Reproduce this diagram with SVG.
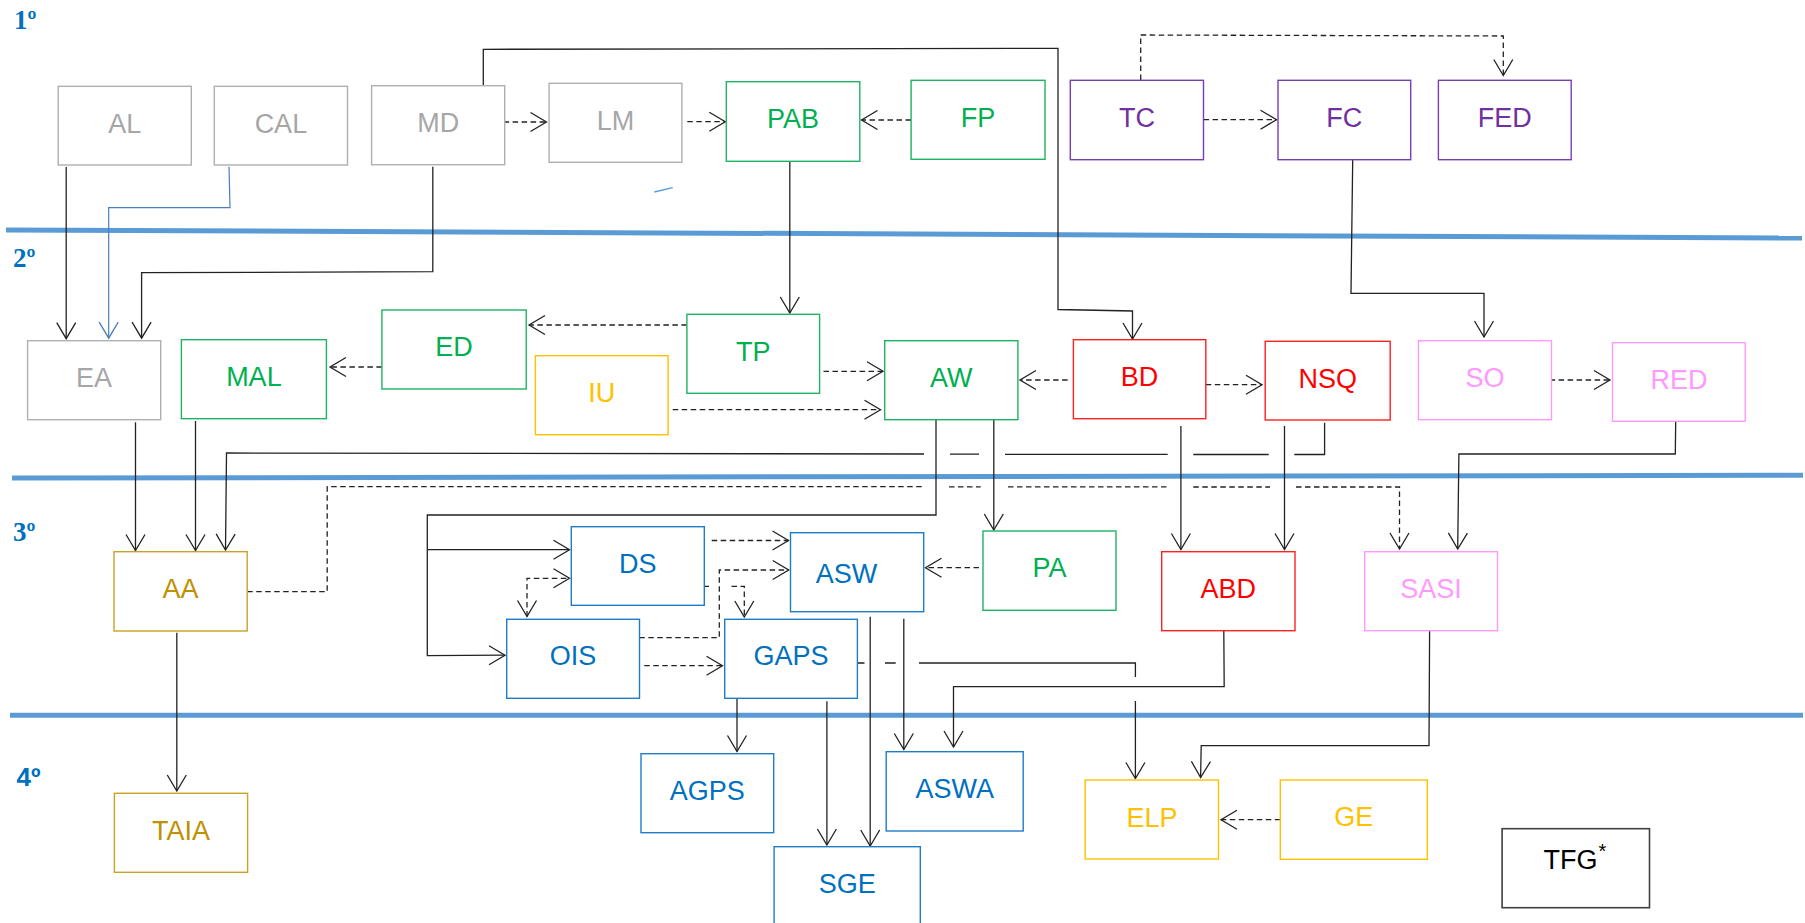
<svg xmlns="http://www.w3.org/2000/svg" width="1805" height="923" viewBox="0 0 1805 923">
<style>
.t{font-family:"Liberation Sans",Arial,sans-serif;font-size:27px;text-anchor:middle}
rect{fill:#fff;stroke-width:1.4}
.g rect{stroke:#B0B0B0}.g text{fill:#A6A6A6}
.gr rect{stroke:#1DB462}.gr text{fill:#00B050}
.pu rect{stroke:#7A3DB0}.pu text{fill:#7030A0}
.ye rect{stroke:#FFC000}.ye text{fill:#FFC000}
.re rect{stroke:#FF2020}.re text{fill:#FF0000}
.pk rect{stroke:#FF99FF}.pk text{fill:#FF99FF}
.bl rect{stroke:#1F7DC8}.bl text{fill:#0070C0}
.au rect{stroke:#C9A227}.au text{fill:#BF9000}
.bk rect{stroke:#404040;stroke-width:1.6}.bk text{fill:#000}
.band{stroke:#5B9BD5;stroke-width:5;fill:none}
.lvl{font-family:"Liberation Serif","Times New Roman",serif;font-weight:bold;font-size:27px;fill:#0070C0}
.c path{fill:none;stroke:#222;stroke-width:1.3}
.c path.d{stroke-dasharray:5.5 3.5}
.c path.s{marker-end:url(#ah)}
</style>
<defs>
<marker id="ah" markerUnits="userSpaceOnUse" markerWidth="22" markerHeight="24" viewBox="-18 -12 22 24" refX="0" refY="0" orient="auto-start-reverse" overflow="visible">
<path d="M-16,-9.5 L0,0 L-16,9.5" fill="none" stroke="#222" stroke-width="1.3" stroke-dasharray="none"/>
</marker>
<marker id="ahb" markerUnits="userSpaceOnUse" markerWidth="22" markerHeight="24" viewBox="-18 -12 22 24" refX="0" refY="0" orient="auto" overflow="visible">
<path d="M-16,-9.5 L0,0 L-16,9.5" fill="none" stroke="#4A7EBB" stroke-width="1.3"/>
</marker>
</defs>
<rect x="0" y="0" width="1805" height="923" style="fill:#fff;stroke:none"/>

<g id="bands">
<path class="band" d="M6,230 L1802,238"/>
<path class="band" d="M12,478 L1803,475.3"/>
<path class="band" d="M10,715.3 L1803,715.3"/>
</g>

<g id="levels">
<text class="lvl" x="14" y="29.3">1º</text>
<text class="lvl" x="13" y="266.7">2º</text>
<text class="lvl" x="13" y="540.7">3º</text>
<text x="16.5" y="786" style="font-family:'Liberation Sans',Arial,sans-serif;font-weight:bold;font-size:26px;fill:#0070C0">4º</text>
</g>

<g id="connectors" class="c">
<path class="s" d="M66.2,167 V338.7"/>
<path d="M229,166.7 L230,207.7 H108.7 V338.2" style="stroke:#4A7EBB;stroke-width:1.2;marker-end:url(#ahb)"/>
<path class="s" d="M432.8,166.7 V271.7 L141.6,272.7 V338.2"/>
<path class="s" d="M483.3,85 V49.3 L1058,48.3 V309.5 L1132.5,311 V339"/>
<path class="d s" d="M503.6,122 H546.5"/>
<path class="d s" d="M687.3,121.7 H725.3"/>
<path class="d s" d="M911,120 H861.5"/>
<path class="d s" d="M1203.5,119.7 H1276.5"/>
<path class="d s" d="M1140.7,80 V35 L1503.3,36 V75.5"/>
<path class="s" d="M789.8,161.3 V313"/>
<path class="s" d="M1352.7,160 L1351,293.3 H1484 V337"/>
<path class="d s" d="M686.9,325 H529"/>
<path class="d s" d="M381.9,367 H330"/>
<path class="d s" d="M823.5,371.3 H883"/>
<path class="d s" d="M672.7,409.7 H880.5"/>
<path class="d s" d="M1067.6,380 H1020"/>
<path class="d s" d="M1205.8,384.7 H1262"/>
<path class="d s" d="M1549.6,380 H1610"/>
<path class="s" d="M135.5,422.3 V550.5"/>
<path class="s" d="M195.5,421 V550.5"/>
<path class="s" d="M1324.6,422.7 V454.5 H1294.3 M1268.7,454.5 H1193.3 M1167.7,454.4 H1005 M979,454.2 H950 M924,454 L226.5,453 L225.5,550"/>
<path class="d s" d="M247.2,591.7 H327.2 V486.7 H924 M949,486.8 H980.7 M1008,486.8 H1167.7 M1193.3,487 H1270 M1296,487 H1399.5 V549"/>
<path d="M936,419.7 V515 H427.3 V655.7 L505,655.2" class="s"/>
<path class="s" d="M427.3,549.7 H569.5"/>
<path class="d" d="M527,616.5 V578.3 H569.5" style="marker-start:url(#ah);marker-end:url(#ah)"/>
<path class="d s" d="M711.7,540.5 H788.5"/>
<path class="d s" d="M639.3,637.7 H719.3 V570 H788.7"/>
<path class="d s" d="M704.3,586.3 H709 M731.5,586.3 H744.3 V617"/>
<path class="d s" d="M644.3,665.7 H722.5"/>
<path class="d s" d="M979,567.7 H925.5"/>
<path class="s" d="M993.8,419.7 V530"/>
<path class="s" d="M1180.9,426 V549.5"/>
<path class="s" d="M1284.5,426 V549.5"/>
<path class="s" d="M1675.7,421.3 L1675.3,454 H1458.9 L1457.7,549"/>
<path class="s" d="M176.8,632.7 V791"/>
<path class="s" d="M737,698 V751.5"/>
<path class="s" d="M826.9,701.3 V845"/>
<path class="s" d="M870.2,616.7 V846"/>
<path class="s" d="M903.8,618.7 V749.5"/>
<path class="s" d="M1223.8,630.7 L1224.2,686.7 H953.5 V747"/>
<path class="s" d="M857.5,663 H864.5 M885,663 H895.7 M919,663 H1135.4 V677 M1135.4,701 V778.5"/>
<path class="s" d="M1429.6,631 L1429,745.7 H1201.2 L1200.6,777.5"/>
<path class="d s" d="M1280.3,819.7 H1221"/>
<path d="M654.3,192 L672.7,187.7" style="stroke:#5B9BD5;stroke-width:1.3"/>
</g>

<g id="AL" class="g"><rect x="58.2" y="86.3" width="133.1" height="78.7"/><text class="t" x="124.7" y="132.7">AL</text></g>
<g id="CAL" class="g"><rect x="214.3" y="86.3" width="133.2" height="78.7"/><text class="t" x="280.9" y="132.7">CAL</text></g>
<g id="MD" class="g"><rect x="371.6" y="85.7" width="133.1" height="79"/><text class="t" x="438.2" y="132.2">MD</text></g>
<g id="LM" class="g"><rect x="549.1" y="83.3" width="132.8" height="79"/><text class="t" x="615.5" y="129.8">LM</text></g>
<g id="PAB" class="gr"><rect x="726.3" y="81.7" width="133.5" height="79.6"/><text class="t" x="793" y="128">PAB</text></g>
<g id="FP" class="gr"><rect x="911.1" y="80.3" width="133.9" height="79"/><text class="t" x="978" y="126.8">FP</text></g>
<g id="TC" class="pu"><rect x="1070.3" y="80.3" width="133.2" height="79.4"/><text class="t" x="1136.9" y="127">TC</text></g>
<g id="FC" class="pu"><rect x="1278" y="80.3" width="132.7" height="79.4"/><text class="t" x="1344.3" y="127">FC</text></g>
<g id="FED" class="pu"><rect x="1438.4" y="80.3" width="132.8" height="79.4"/><text class="t" x="1504.8" y="127">FED</text></g>

<g id="EA" class="g"><rect x="27.6" y="340.7" width="133.1" height="79"/><text class="t" x="94.1" y="387">EA</text></g>
<g id="MAL" class="gr"><rect x="181.4" y="339.7" width="145" height="79"/><text class="t" x="253.9" y="386">MAL</text></g>
<g id="ED" class="gr"><rect x="381.9" y="310" width="144.3" height="79"/><text class="t" x="454" y="356">ED</text></g>
<g id="IU" class="ye"><rect x="535.4" y="355.7" width="132.7" height="79"/><text class="t" x="601.7" y="401.7">IU</text></g>
<g id="TP" class="gr"><rect x="686.9" y="314.3" width="132.7" height="79"/><text class="t" x="753.2" y="361">TP</text></g>
<g id="AW" class="gr"><rect x="884.7" y="340.7" width="133.2" height="79"/><text class="t" x="951.3" y="386.7">AW</text></g>
<g id="BD" class="re"><rect x="1073.4" y="339.7" width="132.4" height="79"/><text class="t" x="1139.6" y="386">BD</text></g>
<g id="NSQ" class="re"><rect x="1265.2" y="341.3" width="125" height="78.7"/><text class="t" x="1327.7" y="388.3">NSQ</text></g>
<g id="SO" class="pk"><rect x="1418.4" y="340.7" width="133.1" height="79"/><text class="t" x="1485" y="386.7">SO</text></g>
<g id="RED" class="pk"><rect x="1612.5" y="342.7" width="132.7" height="78.6"/><text class="t" x="1678.9" y="389.3">RED</text></g>

<g id="AA" class="au"><rect x="114" y="551.7" width="133.2" height="79.3"/><text class="t" x="180.6" y="597.7">AA</text></g>
<g id="DS" class="bl"><rect x="571.3" y="526.7" width="133" height="78.6"/><text class="t" x="637.8" y="572.7">DS</text></g>
<g id="ASW" class="bl"><rect x="790.5" y="532.7" width="133.2" height="79"/><text class="t" x="846.5" y="582.7">ASW</text></g>
<g id="PA" class="gr"><rect x="983" y="531" width="133" height="79.3"/><text class="t" x="1049.5" y="576.7">PA</text></g>
<g id="ABD" class="re"><rect x="1161.7" y="551.7" width="133.3" height="79"/><text class="t" x="1228.3" y="597.7">ABD</text></g>
<g id="SASI" class="pk"><rect x="1364.7" y="551.7" width="132.8" height="79"/><text class="t" x="1431.1" y="597.7">SASI</text></g>
<g id="OIS" class="bl"><rect x="506.7" y="619.3" width="132.8" height="79"/><text class="t" x="573" y="665">OIS</text></g>
<g id="GAPS" class="bl"><rect x="724.7" y="619.3" width="132.7" height="79"/><text class="t" x="791" y="665">GAPS</text></g>

<g id="TAIA" class="au"><rect x="114.4" y="793.3" width="133.2" height="79"/><text class="t" x="181" y="840">TAIA</text></g>
<g id="AGPS" class="bl"><rect x="641" y="753.7" width="132.7" height="79"/><text class="t" x="707.3" y="800">AGPS</text></g>
<g id="ASWA" class="bl"><rect x="886.2" y="751.7" width="137" height="79.3"/><text class="t" x="954.7" y="797.7">ASWA</text></g>
<g id="SGE" class="bl"><rect x="774.1" y="846.7" width="146.2" height="82"/><text class="t" x="847.2" y="892.7">SGE</text></g>
<g id="ELP" class="ye"><rect x="1085.2" y="780" width="133.3" height="79"/><text class="t" x="1151.9" y="826.7">ELP</text></g>
<g id="GE" class="ye"><rect x="1280.3" y="780" width="147" height="79.3"/><text class="t" x="1353.8" y="825.7">GE</text></g>
<g id="TFG" class="bk"><rect x="1502.1" y="828.7" width="147.4" height="79"/><text class="t" x="1575" y="869.3">TFG<tspan style="font-size:20px" dx="1" dy="-11">*</tspan></text></g>
</svg>
